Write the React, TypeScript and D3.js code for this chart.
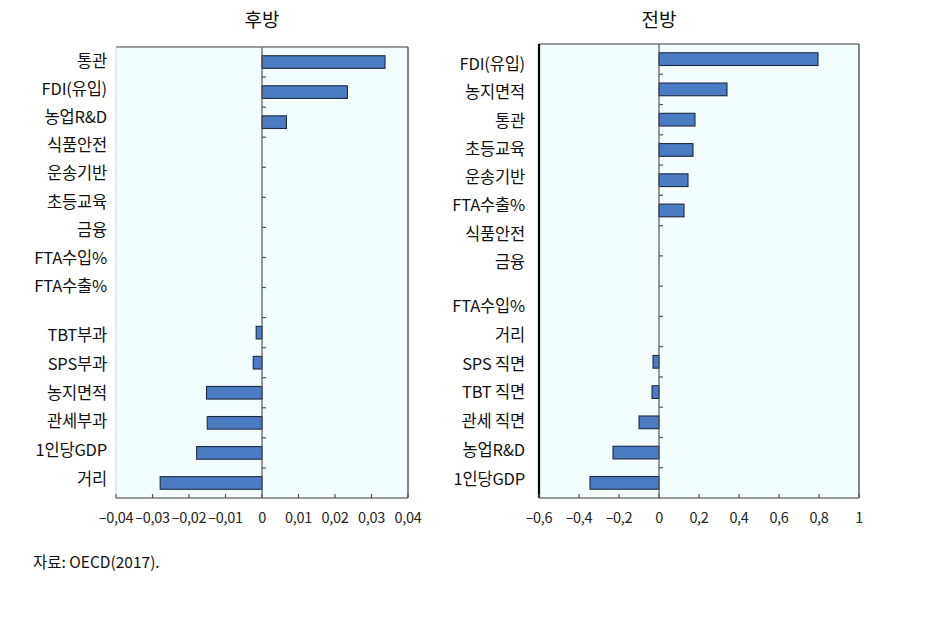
import React from "react";
import * as d3 from "d3";

const leftCategories = ["통관", "FDI(유입)", "농업R&D", "식품안전", "운송기반", "초등교육", "금융", "FTA수입%", "FTA수출%", "", "TBT부과", "SPS부과", "농지면적", "관세부과", "1인당GDP", "거리"];
const leftValues = [0.0337, 0.0234, 0.0067, 0, 0, 0, 0, 0, 0, 0, -0.0016, -0.0024, -0.0152, -0.015, -0.0179, -0.0279];
const leftTicks = [-0.04, -0.03, -0.02, -0.01, 0, 0.01, 0.02, 0.03, 0.04];

const rightCategories = ["FDI(유입)", "농지면적", "통관", "초등교육", "운송기반", "FTA수출%", "식품안전", "금융", "FTA수입%", "거리", "SPS 직면", "TBT 직면", "관세 직면", "농업R&D", "1인당GDP"];
const rightValues = [0.795, 0.34, 0.18, 0.17, 0.145, 0.125, 0, 0, 0, 0, -0.03, -0.035, -0.1, -0.23, -0.345];
const rightTicks = [-0.6, -0.4, -0.2, 0, 0.2, 0.4, 0.6, 0.8, 1];

const FONT = "'Noto Sans CJK KR', 'Noto Sans', sans-serif";

function fmt(v: number, digits: number) {
  if (v === 0) return "0";
  const s = Math.abs(v).toFixed(digits).replace(/0+$/, "").replace(/\.$/, "").replace(".", ",");
  return (v < 0 ? "\u2013" : "") + s;
}

type PanelProps = {
  title: string;
  cats: string[];
  vals: number[];
  ticks: number[];
  domain: [number, number];
  x0: number; x1: number; y0: number; y1: number;
  labelX: number;
  upperN: number;
  upperRange: [number, number];
  lowerRange: [number, number];
  digits: number;
  thickLeft: boolean;
};

function Panel(p: PanelProps) {
  const idx = p.cats.map((c, i) => i).filter((i) => p.cats[i] !== "" || p.cats.length === 15);
  const keys = idx.map(String);
  const y = d3.scaleBand().domain(keys).range([p.y0, p.y1]).paddingInner(0.58).paddingOuter(0.29);
  const x = d3.scaleLinear().domain(p.domain).range([p.x0, p.x1]);
  const step = y.step();
  const labels = p.cats.filter((c) => c !== "");
  const upper = d3.scaleLinear().domain([0, p.upperN - 1]).range(p.upperRange);
  const lower = d3.scaleLinear().domain([0, labels.length - p.upperN - 1]).range(p.lowerRange);
  const vals = idx.map((i) => p.vals[i]);
  return (
    <g>
      <text x={x(0)} y={27} textAnchor="middle" fontSize={19} fontFamily={FONT} fill="#111">{p.title}</text>
      <rect x={p.x0} y={p.y0} width={p.x1 - p.x0} height={p.y1 - p.y0} fill="#f2fdff" />
      {d3.range(1, keys.length).map((i) => (
        <line key={"bt" + i} x1={x(0)} x2={x(0) + 4} y1={p.y0 + i * step} y2={p.y0 + i * step} stroke="#555" strokeWidth={1.2} />
      ))}
      {vals.map((v, i) => {
        if (v === 0) return null;
        return (
          <rect key={"b" + i} x={Math.min(x(0), x(v))} y={y(keys[i])} width={Math.abs(x(v) - x(0))} height={y.bandwidth()} fill="#4a7bc3" stroke="#1c2b40" strokeWidth={1.1} />
        );
      })}
      <line x1={x(0)} x2={x(0)} y1={p.y0} y2={p.y1} stroke="#555" strokeWidth={1.2} />
      <line x1={p.x0} x2={p.x1} y1={p.y0} y2={p.y0} stroke="#7a7a7a" strokeWidth={1.3} />
      <line x1={p.x1} x2={p.x1} y1={p.y0} y2={p.y1} stroke="#444" strokeWidth={1.3} />
      {p.thickLeft ? (
        <line x1={p.x0} x2={p.x0} y1={p.y0} y2={p.y1} stroke="#000" strokeWidth={2.2} />
      ) : (
        <line x1={p.x0} x2={p.x0} y1={p.y0} y2={p.y1} stroke="#d0d8da" strokeWidth={1} />
      )}
      <line x1={p.x0} x2={p.x1} y1={p.y1} y2={p.y1} stroke="#777" strokeWidth={1.5} />
      {p.ticks.map((t) => (
        <g key={"t" + t}>
          <line x1={x(t)} x2={x(t)} y1={p.y1} y2={p.y1 - 4} stroke="#555" strokeWidth={1.2} />
          <text x={x(t)} y={p.y1 + 25} textAnchor="middle" fontSize={14.5} fontFamily={FONT} fill="#222" letterSpacing={-0.3}>{fmt(t, p.digits)}</text>
        </g>
      ))}
      {labels.map((c, i) => {
        const ly = i < p.upperN ? upper(i) : lower(i - p.upperN);
        return (
          <text key={"l" + i} x={p.labelX} y={ly} dy="0.36em" textAnchor="end" fontSize={16.5} fontFamily={FONT} fill="#111" letterSpacing={-0.2}>{c}</text>
        );
      })}
    </g>
  );
}

export default function App() {
  return (
    <svg width={940} height={617} style={{ display: "block", margin: "-8px", background: "#fff" }}>
      <Panel title="후방" cats={leftCategories} vals={leftValues} ticks={leftTicks} domain={[-0.04, 0.04]}
        x0={116} x1={408} y0={47} y1={498} labelX={107} upperN={9} upperRange={[61, 286]} lowerRange={[335, 479]} digits={2} thickLeft={false} />
      <Panel title="전방" cats={rightCategories} vals={rightValues} ticks={rightTicks} domain={[-0.6, 1]}
        x0={539} x1={859} y0={44} y1={498} labelX={525} upperN={8} upperRange={[64, 262]} lowerRange={[306, 479]} digits={1} thickLeft={true} />
      <text x={33} y={568} fontSize={15.5} fontFamily={FONT} fill="#111">자료: OECD(2017).</text>
    </svg>
  );
}
